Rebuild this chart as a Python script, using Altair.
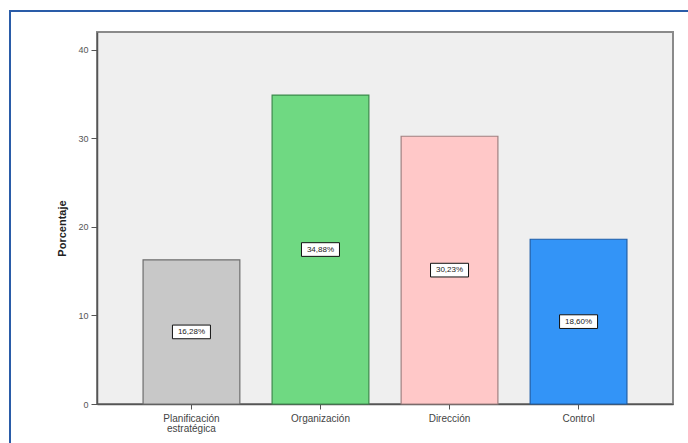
import altair as alt
import pandas as pd

# Distribución porcentual por fase del proceso administrativo
categorias = ["Planificación\nestratégica", "Organización", "Dirección", "Control"]
porcentajes = [16.28, 34.88, 30.23, 18.60]
colores = ["#c8c8c8", "#6fd982", "#ffc8c8", "#3394f7"]
bordes = ["#6e6e6e", "#3d8a4c", "#a08080", "#1f5ea8"]
ticks_y = [0, 10, 20, 30, 40]

df = pd.DataFrame({"fase": categorias, "pct": porcentajes,
                   "color": colores, "borde": bordes})

FONT = "Liberation Sans"

x_enc = alt.X(
    "fase:N", sort=categorias, title=None,
    scale=alt.Scale(paddingInner=0.25, paddingOuter=0.357),
    axis=alt.Axis(labelAngle=0, labelFont=FONT, labelFontSize=10,
                  labelColor="#444444", labelExpr="split(datum.label, '\\n')",
                  labelLineHeight=10, labelPadding=4,
                  domainColor="#555555", domainWidth=1.5,
                  tickColor="#555555", tickSize=5, tickWidth=1),
)
y_scale = alt.Scale(domain=[0, 42], nice=False)

barras = alt.Chart(df).mark_bar(strokeWidth=1.2).encode(
    x=x_enc,
    y=alt.Y("pct:Q", scale=y_scale, title="Porcentaje",
            axis=alt.Axis(values=ticks_y, grid=False, labelFont=FONT,
                          labelFontSize=9, labelColor="#555555",
                          labelPadding=3, tickSize=6, tickColor="#555555",
                          domainColor="#555555", domainWidth=1.5,
                          titleFont=FONT, titleFontSize=11,
                          titleFontWeight="bold", titleColor="#222222",
                          titlePadding=10, titleY=196)),
    fill=alt.Fill("color:N", scale=None),
    stroke=alt.Stroke("borde:N", scale=None),
)

etiquetas_base = alt.Chart(df).transform_calculate(
    mitad="datum.pct / 2",
    texto="replace(format(datum.pct, '.2f'), '.', ',') + '%'",
)

caja = etiquetas_base.mark_point(
    shape="M-1,-0.36L1,-0.36L1,0.36L-1,0.36Z", size=1444,
    filled=True, fill="white", stroke="#111111", strokeWidth=1, opacity=1,
).encode(
    x=alt.X("fase:N", sort=categorias),
    y=alt.Y("mitad:Q", scale=y_scale),
)

texto = etiquetas_base.mark_text(
    font=FONT, fontSize=8, color="#222222", baseline="middle",
).encode(
    x=alt.X("fase:N", sort=categorias),
    y=alt.Y("mitad:Q", scale=y_scale),
    text="texto:N",
)

# marco azul exterior
marco = alt.Chart(df).mark_rect(
    fill=None, stroke="#2a5ca8", strokeWidth=2,
).encode(
    x=alt.value(-87), x2=alt.value(620),
    y=alt.value(-21), y2=alt.value(440),
)

chart = alt.layer(marco, barras, caja, texto).properties(
    width=576, height=372,
    padding={"left": 97, "top": 32, "right": 15, "bottom": 39},
    autosize=alt.AutoSizeParams(type="none"),
    background="white",
).configure_view(
    fill="#efefef", stroke="#8a8a8a", strokeWidth=2,
)

chart.save("out.html", embed_options={"renderer": "svg", "actions": False})
